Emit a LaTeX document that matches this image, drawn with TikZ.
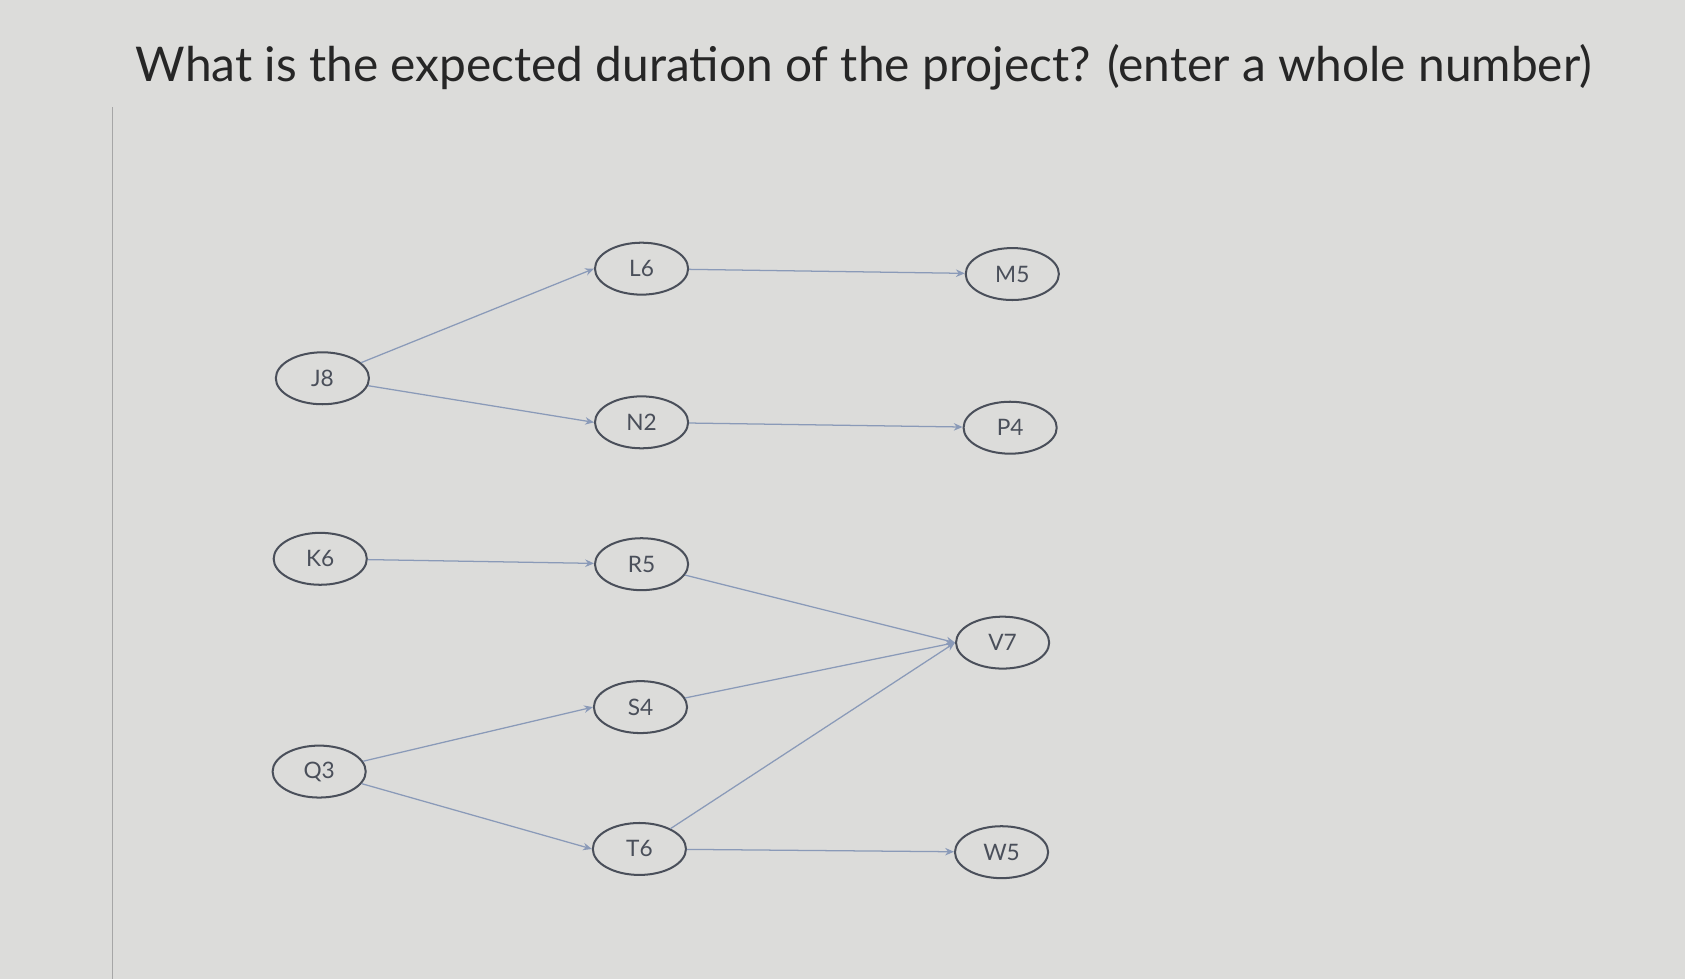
\documentclass[tikz,border=0pt]{standalone}
\usepackage{fontspec}
\setmainfont{Lato}
\usetikzlibrary{shapes.geometric,arrows.meta}
\definecolor{bg}{HTML}{DCDCDA}
\definecolor{edge}{HTML}{8A9AB8}
\definecolor{nd}{HTML}{4A4F5A}
\tikzset{
  ev/.style={ellipse,draw=nd,line width=1.6pt,minimum width=2.6cm,minimum height=1.45cm,font=\fontsize{18}{20}\selectfont,text=nd},
  con/.style={draw=edge,line width=1pt,-{Stealth[length=7pt,width=6pt]}}
}
\begin{document}
\begin{tikzpicture}[x=0.03cm,y=-0.03cm]
\fill[bg] (0,0) rectangle (1568,911);
\useasboundingbox (0,0) rectangle (1568,911);
\draw[gray!70,line width=1pt] (105,100) -- (105,911);
\node[anchor=base,font=\fontsize{38}{44}\selectfont,text=black!85] (title) at (804,76) {What is the expected duration of the project? (enter a whole number)};
\node[ev] (L6) at (597,250) {L6};
\node[ev] (M5) at (942,255) {M5};
\node[ev] (J8) at (300,352) {J8};
\node[ev] (N2) at (597,393) {N2};
\node[ev] (P4) at (940,398) {P4};
\node[ev] (K6) at (298,520) {K6};
\node[ev] (R5) at (597,525) {R5};
\node[ev] (V7) at (933,598) {V7};
\node[ev] (S4) at (596,658) {S4};
\node[ev] (Q3) at (297,718) {Q3};
\node[ev] (T6) at (595,790) {T6};
\node[ev] (W5) at (932,793) {W5};
\draw[con] (J8) -- (L6.west);
\draw[con] (J8) -- (N2.west);
\draw[con] (L6) -- (M5);
\draw[con] (N2) -- (P4);
\draw[con] (K6) -- (R5);
\draw[con] (R5) -- (V7.west);
\draw[con] (S4) -- (V7.west);
\draw[con] (T6) -- (V7.west);
\draw[con] (Q3) -- (S4.west);
\draw[con] (Q3) -- (T6.west);
\draw[con] (T6) -- (W5);
\end{tikzpicture}
\end{document}
